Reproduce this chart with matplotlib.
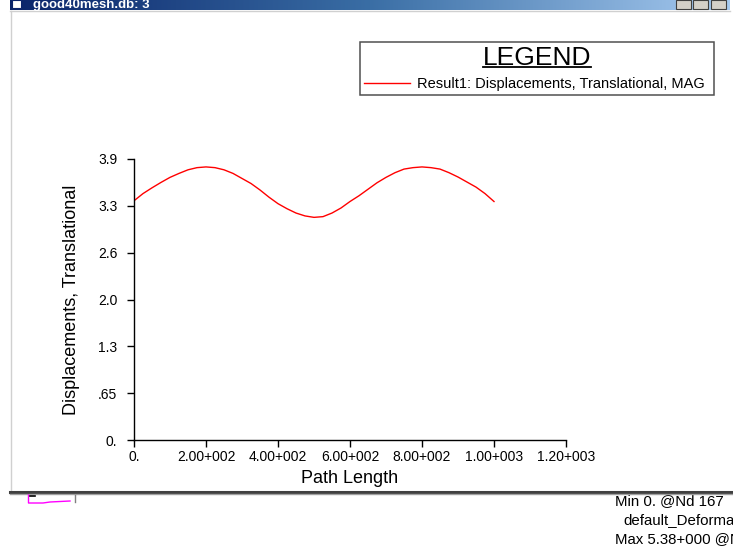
import matplotlib
matplotlib.use('Agg')
import matplotlib.pyplot as plt
from matplotlib.colors import LinearSegmentedColormap
from matplotlib.patches import Rectangle
import numpy as np

plt.rcParams['font.family'] = ['Liberation Sans', 'DejaVu Sans']

# Displacement magnitude along the path
path_length = list(range(0, 1001, 25))
displacement = [3.32, 3.42, 3.50, 3.575, 3.645, 3.70, 3.75, 3.78, 3.79,
                3.78, 3.75, 3.70, 3.63, 3.56, 3.47, 3.37, 3.28, 3.21, 3.15, 3.11,
                3.09, 3.10, 3.15, 3.22, 3.31, 3.39, 3.48, 3.57, 3.645, 3.71, 3.76,
                3.78, 3.79, 3.78, 3.76, 3.71, 3.65, 3.58, 3.51, 3.42, 3.31]

x_ticks = [0, 200, 400, 600, 800, 1000, 1200]
x_tick_labels = ['0.', '2.00+002', '4.00+002', '6.00+002', '8.00+002', '1.00+003', '1.20+003']
y_ticks = [0, 0.65, 1.3, 1.95, 2.6, 3.25, 3.9]
y_tick_labels = ['0.', '.65', '1.3', '2.0', '2.6', '3.3', '3.9']

series_label = 'Result1: Displacements, Translational, MAG'
window_title = 'good40mesh.db: 3'
status_lines = ['Min 0. @Nd 167', 'default_Deforma', 'Max 5.38+000 @N']

W, H = 733, 547
fig = plt.figure(figsize=(W / 100, H / 100), dpi=100, facecolor='white')

# window frame drawn in pixel coordinates
deco = fig.add_axes([0, 0, 1, 1])
deco.axis('off')
grad = np.linspace(0, 1, 256).reshape(1, -1)
cmap = LinearSegmentedColormap.from_list('titlebar', ['#0a246a', '#3a6ea5', '#a6caf0'])
deco.imshow(grad, extent=(10, 730, 10, 0), origin='upper', aspect='auto', cmap=cmap, zorder=1)
deco.add_patch(Rectangle((12, 0), 9, 8, facecolor='white', edgecolor='#0a246a', lw=0.8, zorder=2))
deco.text(33, 8, window_title, color='white', fontsize=9.5, fontweight='bold',
          va='baseline', zorder=3)
for bx in (676, 693, 711):
    deco.add_patch(Rectangle((bx, 0), 15, 9, facecolor='#d4d0c8', edgecolor='#404040', lw=0.8, zorder=2))
deco.plot([10, 730], [10.5, 10.5], color='#d0d0d0', lw=1, zorder=2)
deco.plot([10.5, 10.5], [10.5, 491], color='#d0d0d0', lw=1, zorder=2)

for i, line in enumerate(status_lines):
    x0 = 623 if i == 1 else 615
    deco.text(x0, 501 + 19 * i, line, fontsize=10.8, va='center', ha='left', color='black')
deco.plot([10, 733], [491.5, 491.5], color='#404040', lw=2.2, zorder=4)
deco.plot([10, 733], [493.5, 493.5], color='#a0a0a0', lw=1, zorder=4)
deco.plot([28.5, 28.5, 43, 50, 70], [495, 503, 503, 502, 501], color='#ff00ff', lw=1, zorder=4)
deco.plot([30, 35], [495.5, 495.5], color='black', lw=1.2, zorder=4)
deco.plot([75, 75], [495, 502], color='#808080', lw=1, zorder=4)
deco.set_xlim(0, W)
deco.set_ylim(H, 0)

# XY plot
ax = fig.add_axes([134 / W, 107 / H, 432 / W, 281 / H])
ax.patch.set_visible(False)
ax.plot(path_length, displacement, color='#ff0000', lw=1.0, label=series_label)
ax.set_xlim(0, 1200)
ax.set_ylim(0, 3.9)
ax.set_xticks(x_ticks)
ax.set_xticklabels(x_tick_labels)
ax.set_yticks(y_ticks)
ax.set_yticklabels(y_tick_labels)
ax.tick_params(direction='out', length=5, width=1, labelsize=10, colors='black')
ax.tick_params(axis='x', pad=2)
ax.tick_params(axis='y', pad=7)
for side in ('top', 'right'):
    ax.spines[side].set_visible(False)
for side in ('left', 'bottom'):
    ax.spines[side].set_linewidth(1)
    ax.spines[side].set_color('black')

ax.set_xlabel('Path Length', fontsize=13)
ax.xaxis.set_label_coords(0.5, -0.105)
ax.set_ylabel('Displacements, Translational', fontsize=13)
ax.yaxis.set_label_coords(-0.125, 0.5)

leg = ax.legend(loc='upper left', bbox_to_anchor=(360 / W, 1 - 42 / H, 354 / W, 0.0),
                bbox_transform=fig.transFigure, mode='expand', borderaxespad=0,
                title='LEGEND', title_fontsize=19, fontsize=10.5, handlelength=3.2,
                handletextpad=0.45, borderpad=0.25, fancybox=False, framealpha=1,
                edgecolor='#505050')
leg.get_frame().set_linewidth(1.1)

# underline under the legend title
fig.canvas.draw()
tb = leg.get_title().get_window_extent()
inv = fig.transFigure.inverted()
(ux0, uy0), (ux1, _) = inv.transform([[tb.x0, tb.y0], [tb.x1, tb.y0]])
fig.add_artist(plt.Line2D([ux0, ux1], [uy0 + 3 / H, uy0 + 3 / H], color='black', lw=1.3,
                          transform=fig.transFigure))

fig.savefig('out.png', dpi=100, facecolor='white')
